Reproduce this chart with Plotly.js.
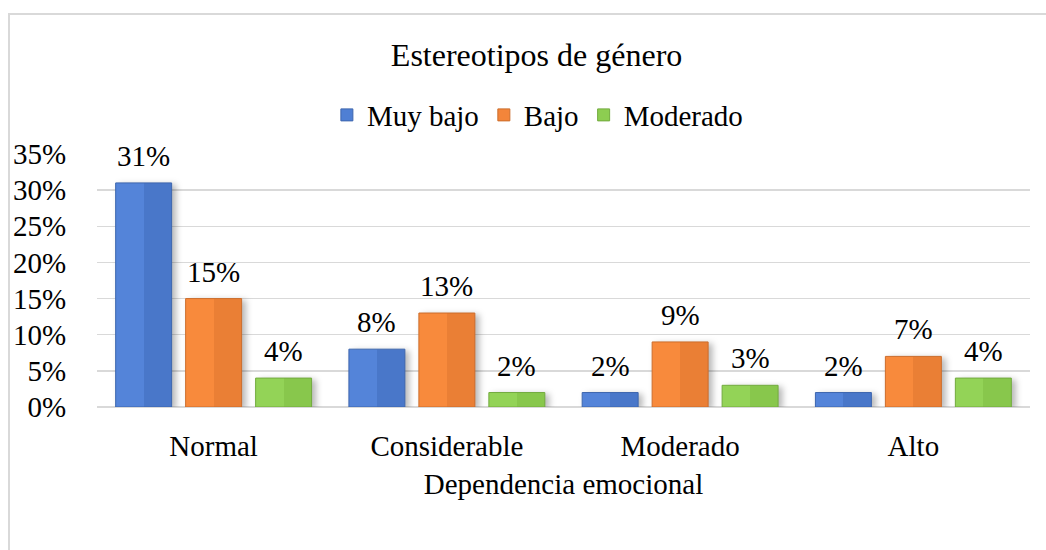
<!DOCTYPE html>
<html>
<head>
<meta charset="utf-8">
<script src="https://cdn.plot.ly/plotly-3.0.1.min.js"></script>
<style>
html,body{margin:0;padding:0;background:#fff;}
#wrap{position:relative;width:1046px;height:550px;}
#chart{width:1046px;height:550px;}
#frame{position:absolute;left:8px;top:13px;right:-2px;bottom:-2px;border-left:2px solid #d9d9d9;border-top:2px solid #d9d9d9;pointer-events:none;}
</style>
</head>
<body>
<div id="wrap"><div id="chart"></div><div id="frame"></div></div>
<script>
const categories = ['Normal', 'Considerable', 'Moderado', 'Alto'];
const seriesNames = ['Muy bajo', 'Bajo', 'Moderado'];
const muyBajo = [31, 8, 2, 2];
const bajo = [15, 13, 9, 7];
const moderado = [4, 2, 3, 4];
const tickVals = [0, 5, 10, 15, 20, 25, 30, 35];

const colors = ['#4f7fd4', '#f3853a', '#8dcd51'];
const lights = ['#5484d9', '#f88a3c', '#93d357'];
const darks = ['#4977c9', '#ea7f35', '#88c74c'];
const lines = ['#3d66ae', '#cc6d2c', '#72ab3e'];
const FONT = '"Liberation Serif", "Times New Roman", serif';
const FS = 29;

const values = [muyBajo, bajo, moderado];
const traces = values.map((v, i) => ({
  type: 'bar',
  name: seriesNames[i],
  x: categories,
  y: v,
  marker: {color: colors[i], line: {color: lines[i], width: 1}}
}));

const annotations = [];
values.forEach((v, i) => {
  v.forEach((n, j) => {
    annotations.push({
      x: categories[j], y: n, xref: 'x', yref: 'y',
      text: n + '%', showarrow: false,
      xanchor: 'center', yanchor: 'bottom',
      xshift: (i - 1) * 70, yshift: 9,
      font: {family: FONT, size: FS, color: '#000'}
    });
  });
});

const layout = {
  width: 1046, height: 550,
  margin: {l: 97, r: 16, t: 154, b: 143},
  paper_bgcolor: '#fff', plot_bgcolor: '#fff',
  font: {family: FONT, size: FS, color: '#000'},
  title: {text: 'Estereotipos de género', x: 0.513, xanchor: 'center', y: 0.9, yanchor: 'middle', font: {family: FONT, size: 32, color: '#000'}},
  showlegend: true,
  legend: {orientation: 'h', x: 0.472, xanchor: 'center', y: 1.154, yanchor: 'middle', font: {family: FONT, size: FS, color: '#000'}, itemwidth: 30, traceorder: 'normal'},
  barmode: 'group', bargap: 0.1, bargroupgap: 0.2,
  annotations: annotations,
  xaxis: {
    type: 'category',
    showgrid: false, zeroline: false, showline: false,
    ticks: 'outside', ticklen: 13, tickcolor: 'rgba(0,0,0,0)',
    tickfont: {family: FONT, size: FS, color: '#000'},
    title: {text: 'Dependencia emocional', font: {family: FONT, size: FS, color: '#000'}, standoff: 12}
  },
  yaxis: {
    range: [0, 35], tickvals: tickVals, ticktext: tickVals.map(t => t + '%'),
    showgrid: true, gridcolor: '#d9d9d9', gridwidth: 1.5,
    zeroline: true, zerolinecolor: '#d9d9d9', zerolinewidth: 1.5,
    showline: false,
    ticks: 'outside', ticklen: 24, tickcolor: 'rgba(0,0,0,0)',
    tickfont: {family: FONT, size: FS, color: '#000'}
  }
};

Plotly.newPlot('chart', traces, layout, {displayModeBar: false, staticPlot: true}).then(() => {
  const svg = document.querySelector('#chart svg.main-svg');
  const NS = 'http://www.w3.org/2000/svg';
  let defs = svg.querySelector('defs');
  if (!defs) { defs = document.createElementNS(NS, 'defs'); svg.insertBefore(defs, svg.firstChild); }
  colors.forEach((c, i) => {
    const g = document.createElementNS(NS, 'linearGradient');
    g.setAttribute('id', 'bevel' + i);
    g.setAttribute('x1', '0'); g.setAttribute('y1', '0');
    g.setAttribute('x2', '1'); g.setAttribute('y2', '0');
    [[0, lights[i]], [0.5, lights[i]], [0.5, darks[i]], [1, darks[i]]].forEach(([o, col]) => {
      const s = document.createElementNS(NS, 'stop');
      s.setAttribute('offset', o); s.setAttribute('stop-color', col);
      g.appendChild(s);
    });
    defs.appendChild(g);
  });
  document.querySelectorAll('#chart .barlayer .trace').forEach((tr, i) => {
    tr.querySelectorAll('.point path').forEach(p => {
      p.style.fill = 'url(#bevel' + i + ')';
      p.style.filter = 'drop-shadow(4px 2px 3px rgba(0,0,0,0.28))';
    });
  });
});
</script>
</body>
</html>
